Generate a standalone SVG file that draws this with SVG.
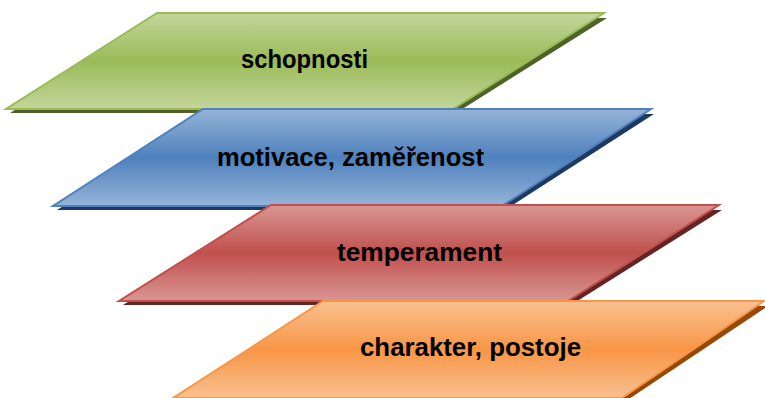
<svg xmlns="http://www.w3.org/2000/svg" width="765" height="398" viewBox="0 0 765 398">
<defs>
<linearGradient id="gG" x1="0" y1="0" x2="0" y2="1">
<stop offset="0" stop-color="#c3d69b"/><stop offset="0.5" stop-color="#9bbb59"/><stop offset="1" stop-color="#c3d69b"/>
</linearGradient>
<linearGradient id="gB" x1="0" y1="0" x2="0" y2="1">
<stop offset="0" stop-color="#95b3d7"/><stop offset="0.5" stop-color="#4f81bd"/><stop offset="1" stop-color="#95b3d7"/>
</linearGradient>
<linearGradient id="gR" x1="0" y1="0" x2="0" y2="1">
<stop offset="0" stop-color="#d99694"/><stop offset="0.5" stop-color="#c0504d"/><stop offset="1" stop-color="#d99694"/>
</linearGradient>
<linearGradient id="gO" x1="0" y1="0" x2="0" y2="1">
<stop offset="0" stop-color="#fac090"/><stop offset="0.5" stop-color="#f79646"/><stop offset="1" stop-color="#fac090"/>
</linearGradient>
</defs>
<style>
.lbl{font-family:"Liberation Sans",Arial,sans-serif;font-weight:bold;font-size:25px;fill:#000}
.pl{stroke-width:2;stroke-linejoin:miter}
</style>
<rect width="765" height="398" fill="#fff"/>
<g id="schopnosti">
<polygon points="161,18 607,18 456,113 10,113" fill="#4f6228"/>
<polygon class="pl" points="157,13 604,13 453,109 6,109" fill="url(#gG)" stroke="#9bbb59"/>
<text class="lbl" x="241" y="68" textLength="127" lengthAdjust="spacingAndGlyphs">schopnosti</text>
</g>
<g id="motivace">
<polygon points="207,114 654,114 505,210 57,210" fill="#1f3a60"/>
<polygon class="pl" points="203,109 651,109 502,206 53,206" fill="url(#gB)" stroke="#4f81bd"/>
<text class="lbl" x="217" y="166" textLength="267" lengthAdjust="spacingAndGlyphs">motivace, zaměřenost</text>
</g>
<g id="temperament">
<polygon points="275,210 722,210 571,305 123,305" fill="#632423"/>
<polygon class="pl" points="271,205 719,205 568,301 119,301" fill="url(#gR)" stroke="#c0504d"/>
<text class="lbl" x="337" y="261" textLength="165" lengthAdjust="spacingAndGlyphs">temperament</text>
</g>
<g id="charakter">
<polygon points="327,306 768,306 626,401 177,401" fill="#974806"/>
<polygon class="pl" points="323,301 764,301 622,398 173,398" fill="url(#gO)" stroke="#f79646"/>
<text class="lbl" x="360" y="356" textLength="221" lengthAdjust="spacingAndGlyphs">charakter, postoje</text>
</g>
<g id="connectors"/>
</svg>
